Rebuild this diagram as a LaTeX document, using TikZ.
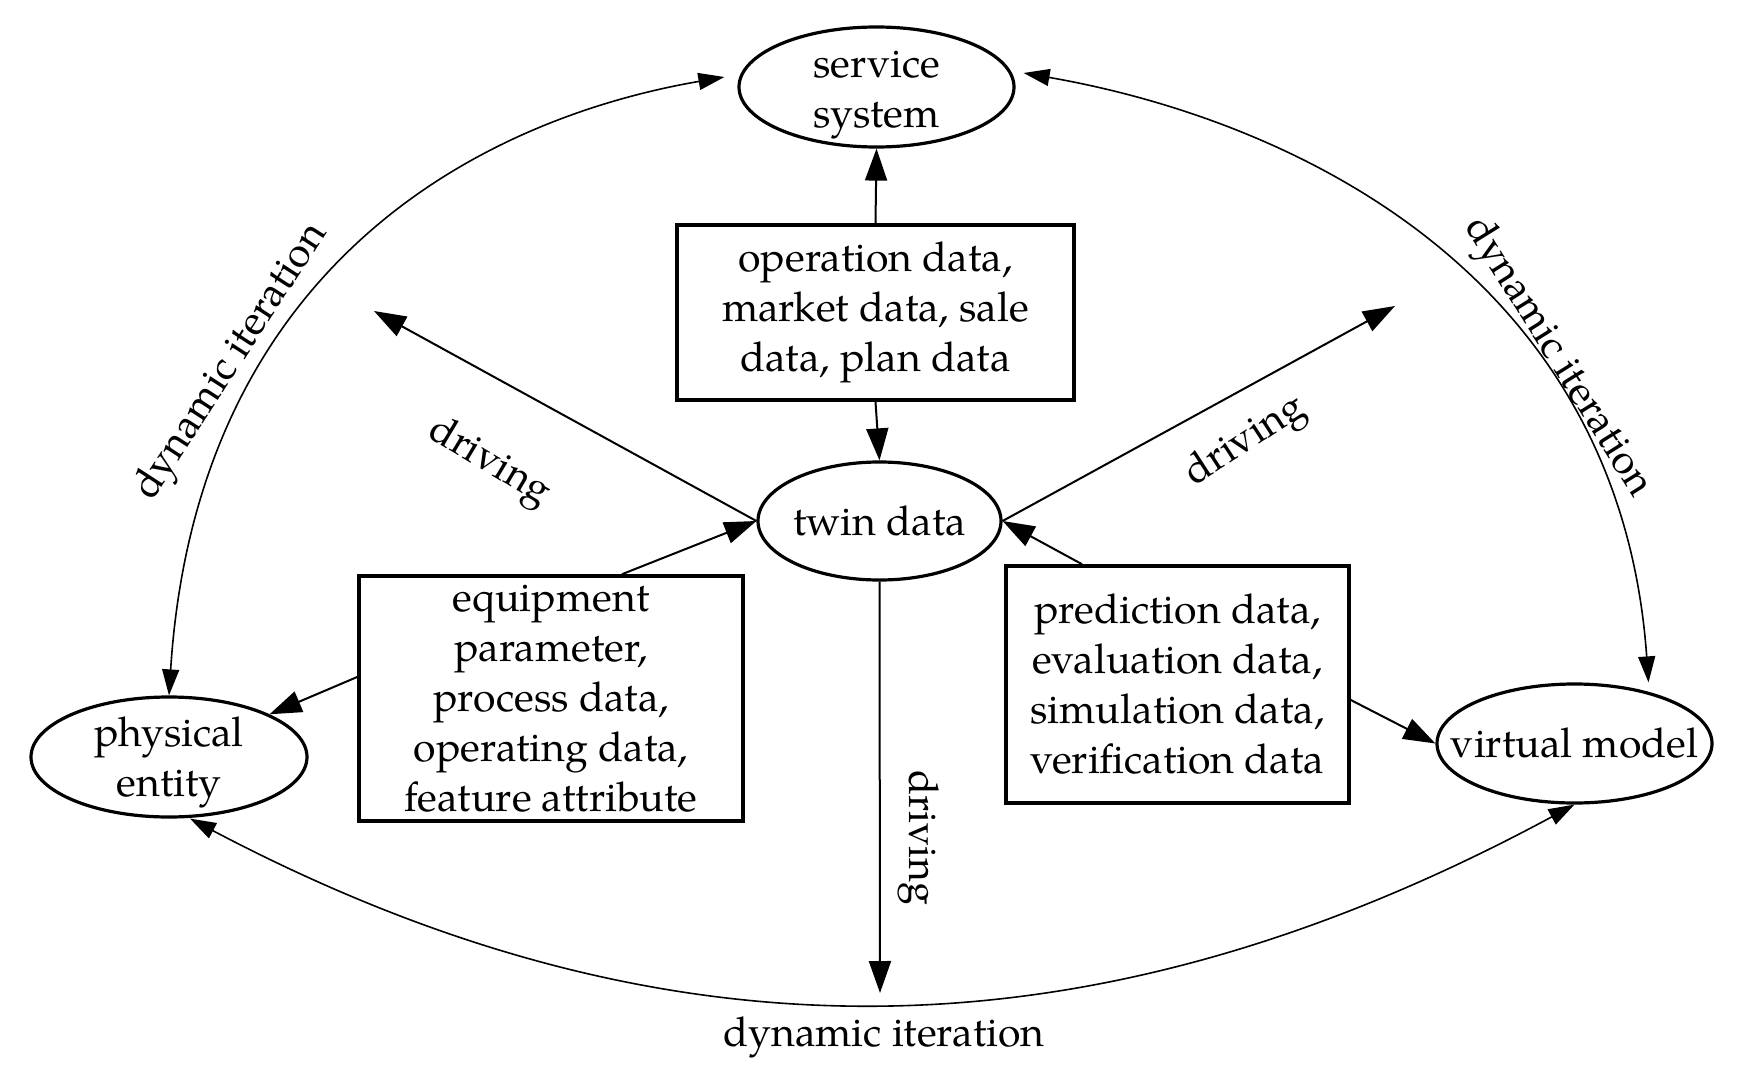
\documentclass[tikz,border=0pt]{standalone}
\usepackage{fontspec}
\setmainfont{texgyrepagella-regular.otf}
\usetikzlibrary{shapes.geometric,arrows.meta}
\begin{document}
\begin{tikzpicture}[x=0.5pt,y=-0.5pt,
  every node/.style={font=\fontsize{20.5}{25}\selectfont, align=center},
  ell/.style={ellipse, draw, line width=1.6pt, inner sep=0pt},
  box/.style={rectangle, draw, line width=1.8pt, inner sep=0pt},
  conn/.style={line width=1pt, -{Triangle[length=16pt,width=11pt]}},
  curv/.style={line width=0.8pt, {Triangle[length=13pt,width=8.5pt]}-{Triangle[length=13pt,width=8.5pt]}},
  lbl/.style={inner sep=0pt}]
\useasboundingbox (0,0) rectangle (1741,1086);
% ellipses
\node[ell, minimum width=137.5pt, minimum height=60pt, label={[lbl,yshift=-4pt]center:service\\system}] (svc) at (876.5,87) {};
\node[ell, minimum width=121.5pt, minimum height=59pt, label={[lbl]center:twin data}] (twin) at (879.5,521) {};
\node[ell, minimum width=138pt, minimum height=60pt, label={[lbl,yshift=-2.5pt]center:physical\\entity}] (pe) at (169,757) {};
\node[ell, minimum width=137.5pt, minimum height=59.5pt, label={[lbl]center:virtual model}] (vm) at (1574.5,743.5) {};
% boxes
\node[box, minimum width=198.5pt, minimum height=87.5pt] (op) at (875.5,312.5) {operation data,\\market data, sale\\data, plan data};
\node[box, minimum width=192pt, minimum height=122.5pt] (eq) at (551,698.5) {equipment\\parameter,\\process data,\\operating data,\\feature attribute};
\node[box, minimum width=171.5pt, minimum height=118.5pt] (pr) at (1177.5,684.5) {prediction data,\\evaluation data,\\simulation data,\\verification data};
% free ends
\coordinate (dl) at (374,311);
\coordinate (dr) at (1395,306);
\coordinate (db) at (880,993);
% straight connectors
\draw[conn] (op.north) -- (svc.south);
\draw[conn] (op.south) -- (twin.north);
\draw[conn] (twin.west) -- (dl);
\draw[conn] (twin.east) -- (dr);
\draw[conn] (twin.south) -- (db);
\draw[conn] ([xshift=35.5pt]eq.north) -- (twin.west);
\draw[conn] ([xshift=-47.75pt]pr.north) -- (twin.east);
\draw[conn] ([yshift=10.75pt]eq.west) -- (pe);
\draw[conn] ([yshift=-7.75pt]pr.east) -- (vm.west);
% dynamic iteration curves
\draw[curv] (pe.north) .. controls (196,273) and (470,121) .. ([xshift=-6.5pt,yshift=5pt]svc.west);
\draw[curv] ([xshift=4pt,yshift=7pt]svc.east) .. controls (1277,117) and (1619,263) .. ([xshift=37pt]vm.north);
\draw[curv] ([xshift=10.5pt]pe.south) .. controls (667,1070) and (1093,1064) .. (vm.south);
% labels
\node[lbl, rotate=57] (dil) at (232,362) {dynamic iteration};
\node[lbl, rotate=-58] (dir) at (1557,358) {dynamic iteration};
\node[lbl] (dib) at (884,1037) {dynamic iteration};
\node[lbl, rotate=-31] (drl) at (489,463) {driving};
\node[lbl, rotate=33] (drr) at (1246,442) {driving};
\node[lbl, rotate=-90] (drb) at (919,838) {driving};
\end{tikzpicture}
\end{document}
